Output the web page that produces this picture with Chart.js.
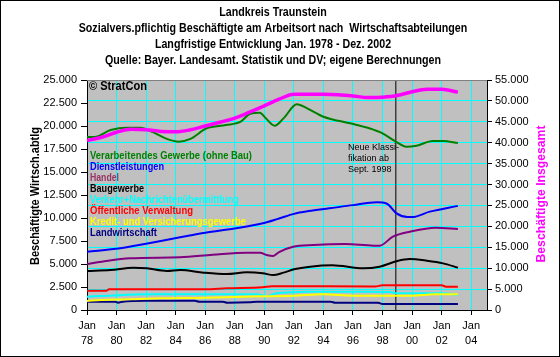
<!DOCTYPE html>
<html>
<head>
<meta charset="utf-8">
<script src="https://cdn.jsdelivr.net/npm/chart.js@4.4.1/dist/chart.umd.min.js"></script>
<style>
html,body{margin:0;padding:0;background:#fff;}
#wrap{width:560px;height:357px;position:relative;}
</style>
</head>
<body>
<div id="wrap"><canvas id="c" width="560" height="357"></canvas></div>
<script>
// ---- Data ----
const titleLines = [
  'Landkreis Traunstein',
  'Sozialvers.pflichtig Beschäftigte am Arbeitsort nach  Wirtschaftsabteilungen',
  'Langfristige Entwicklung Jan. 1978 - Dez. 2002',
  'Quelle: Bayer. Landesamt. Statistik und DV; eigene Berechnungen'
];
const xTickYears = [1978,1980,1982,1984,1986,1988,1990,1992,1994,1996,1998,2000,2002,2004];
const leftTicks = [0,2500,5000,7500,10000,12500,15000,17500,20000,22500,25000];
const rightTicks = [0,5000,10000,15000,20000,25000,30000,35000,40000,45000,50000,55000];

const gesamtYears = [1978,1979,1980,1981,1982,1983,1984,1985,1986,1987,1988,1989,1990,1991,1992,1993,1994,1995,1996,1997,1998,1999,2000,2001,2002,2003.1];
const gesamtValues = [40500,41300,42500,43200,43100,42700,42600,43100,44000,44900,45900,47300,48800,50400,51600,51600,51600,51500,51200,50800,50900,51300,52200,52800,52800,52100];

const verarbYears = [1978,1978.5,1979.6,1980.7,1981.6,1982.5,1983.4,1984.2,1985,1986.1,1987.4,1988.4,1989.0,1989.7,1990.1,1990.7,1991.3,1992.2,1992.9,1994.0,1995.8,1997.1,1998.0,1998.9,1999.6,2000.3,2001.4,2002.1,2003.1];
const verarbValues = [18800,18800,19560,19820,19820,19300,18600,18300,18600,19750,20100,20470,21300,21450,20830,20030,20830,22360,21920,21010,20290,19750,19200,18300,17750,17860,18370,18370,18150];

const dienstYears = [1978,1980.25,1982,1984.3,1986,1988.1,1989.9,1991,1992,1993,1994.4,1996,1997.6,1998.3,1998.95,1999.7,2000,2001.2,2003.1];
const dienstValues = [6340,6700,7200,7900,8400,8880,9420,9950,10450,10750,11050,11400,11700,11550,10500,10100,10100,10690,11320];

const handelYears = [1978,1979,1980.9,1984.3,1986.5,1988.8,1989.7,1990.15,1990.6,1991,1991.95,1993.3,1995.5,1997.4,1997.8,1998.7,1999.85,2001.6,2003.1];
const handelValues = [5000,5250,5620,5730,6000,6230,6230,5980,5870,6300,6880,7065,7170,6990,6990,7970,8510,8950,8800];

const bauYears = [1978,1979.6,1981.15,1982.05,1983.4,1984.3,1985.9,1987.45,1988.8,1989.9,1990.6,1991.3,1992,1993.1,1994.6,1996.7,1997.8,1999,1999.85,2001,2002.1,2003.1];
const bauValues = [4240,4350,4600,4530,4240,4350,4060,3910,4090,3990,3800,4060,4420,4710,4860,4530,4710,5330,5540,5360,5070,4600];

const oeffYears = [1978,1979.3,1979.5,1986,1987.45,1989.9,1990.5,1997.5,1998,2002,2002.3,2003.1];
const oeffValues = [2100,2100,2250,2250,2360,2470,2580,2560,2680,2680,2540,2540];

const verkehrYears = [1978,1979.5,1982,1989.5,1990.2,1990.8,1993,1997,1998.5,1999,2002,2003.1];
const verkehrValues = [1450,1560,1700,1700,1520,1810,1990,1990,1950,1810,1810,1630];

const kreditYears = [1978,1979,1981,1983,1986,1988.5,1992,1994,1996,2000,2001.5,2003.1];
const kreditValues = [980,1090,1160,1270,1340,1450,1550,1700,1560,1560,1700,1700];

const landwYears = [1978,1979.9,1980.1,1980.4,1982,1985.3,1985.6,1987.2,1987.5,1989,1989.5,1994.5,1994.8,1997.7,1998,2003.1];
const landwValues = [900,900,800,900,1000,1000,900,900,800,850,900,900,800,800,650,650];

const breakYear = 1998.9;

const legendEntries = [
  {text:'Verarbeitendes Gewerbe (ohne Bau)', color:'#008000', w:162},
  {text:'Dienstleistungen', color:'#0000ff', w:74},
  {text:'Handel', color:'#993366', w:29},
  {text:'Baugewerbe', color:'#000000', w:54},
  {text:'Verkehr+Nachrichtenübermittlung', color:'#00ffff', w:149},
  {text:'Öffentliche Verwaltung', color:'#ff0000', w:103},
  {text:'Kredit- und Versicherungsgewerbe', color:'#ffff00', w:156},
  {text:'Landwirtschaft', color:'#000080', w:67}
];

// ---- helpers ----
const pts = (xs, vs) => xs.map((x,i)=>({x:x, y:vs[i]}));
const fmt = v => String(v).replace(/\B(?=(\d{3})+(?!\d))/g,'.');
const FONT = '"Liberation Sans", Arial, sans-serif';

function fitText(ctx, text, x, y, w){
  const m = ctx.measureText(text).width;
  ctx.save();
  ctx.translate(x,y);
  ctx.scale(w/m,1);
  ctx.fillText(text,0,0);
  ctx.restore();
}
function squeezeText(ctx, text, x, y, f){
  ctx.save();
  ctx.translate(x,y);
  ctx.scale(f,1);
  ctx.fillText(text,0,0);
  ctx.restore();
}

const bgPlugin = {
  id:'bg',
  beforeDraw(chart){
    const {ctx, chartArea:a} = chart;
    ctx.save();
    ctx.fillStyle='#ffffff';
    ctx.fillRect(0,0,chart.width,chart.height);
    ctx.fillStyle='#c0c0c0';
    ctx.fillRect(a.left,a.top,a.right-a.left,a.bottom-a.top);
    ctx.restore();
  },
  afterDraw(chart){
    const {ctx, chartArea:a} = chart;
    ctx.save();
    // plot top border
    ctx.strokeStyle='#808080'; ctx.lineWidth=1;
    ctx.beginPath(); ctx.moveTo(a.left,a.top+0.5); ctx.lineTo(a.right,a.top+0.5); ctx.stroke();
    // outer frame
    ctx.strokeStyle='#000'; ctx.lineWidth=1;
    ctx.strokeRect(0.5,0.5,chart.width-1,chart.height-1);
    // titles
    ctx.fillStyle='#000';
    ctx.textAlign='center'; ctx.textBaseline='middle';
    ctx.font='bold 12px '+FONT;
    const ty=[13,29,45,61];
    titleLines.forEach((t,i)=>squeezeText(ctx,t,273,ty[i],0.89));
    // axis titles
    ctx.save();
    ctx.translate(36,196); ctx.rotate(-Math.PI/2);
    ctx.font='bold 12px '+FONT; ctx.fillStyle='#000';
    fitText(ctx,'Beschäftigte Wirtsch.abtlg',0,0,138);
    ctx.restore();
    ctx.save();
    ctx.translate(542,194); ctx.rotate(-Math.PI/2);
    ctx.font='bold 12px '+FONT; ctx.fillStyle='#ff00ff';
    fitText(ctx,'Beschäftigte Insgesamt',0,0,137);
    ctx.restore();
    // copyright
    ctx.textAlign='left';
    ctx.font='bold 12px '+FONT; ctx.fillStyle='#000';
    fitText(ctx,'© StratCon',89,87,58);
    // legend inside plot
    ctx.font='bold 10px '+FONT;
    legendEntries.forEach((e,i)=>{
      ctx.fillStyle=e.color;
      fitText(ctx,e.text,90,156+i*11,e.w);
    });
    // annotation
    ctx.font='9px '+FONT; ctx.fillStyle='#000';
    ctx.fillText('Neue Klassi-',348,148);
    ctx.fillText('fikation ab',348,159);
    ctx.fillText('Sept. 1998',348,170);
    ctx.restore();
  }
};

const lineDs = (label, xs, vs, color, width, axis) => ({
  label, data: pts(xs,vs), borderColor: color, backgroundColor: color,
  borderWidth: width, pointRadius: 0, tension: 0.35, cubicInterpolationMode:'monotone',
  yAxisID: axis, fill:false
});

const tickFont = {family:'"Liberation Sans", Arial, sans-serif', size:11, lineHeight:1.4};

new Chart(document.getElementById('c'), {
  type:'line',
  data:{
    datasets:[
      lineDs('Beschäftigte Insgesamt', gesamtYears, gesamtValues, '#ff00ff', 3.5, 'yR'),
      lineDs('Verarbeitendes Gewerbe (ohne Bau)', verarbYears, verarbValues, '#008000', 2, 'yL'),
      lineDs('Dienstleistungen', dienstYears, dienstValues, '#0000ff', 2, 'yL'),
      lineDs('Handel', handelYears, handelValues, '#800080', 2, 'yL'),
      lineDs('Baugewerbe', bauYears, bauValues, '#000000', 2, 'yL'),
      lineDs('Öffentliche Verwaltung', oeffYears, oeffValues, '#ff0000', 2, 'yL'),
      lineDs('Kredit- und Versicherungsgewerbe', kreditYears, kreditValues, '#ffff00', 2, 'yL'),
      lineDs('Verkehr+Nachrichtenübermittlung', verkehrYears, verkehrValues, '#00ffff', 2, 'yL'),
      lineDs('Landwirtschaft', landwYears, landwValues, '#000080', 2, 'yL'),
      {label:'Neue Klassifikation', data:[{x:breakYear,y:0},{x:breakYear,y:25000}], borderColor:'#000', borderWidth:1, pointRadius:0, yAxisID:'yL', tension:0}
    ]
  },
  options:{
    responsive:false, animation:false, devicePixelRatio:1,
    layout:{padding:{top:80,left:0,right:0,bottom:0}},
    plugins:{legend:{display:false}, title:{display:false}, tooltip:{enabled:false}},
    scales:{
      x:{
        type:'linear', position:'bottom', min:1978, max:2005.07,
        afterBuildTicks: s => { s.ticks = xTickYears.map(v=>({value:v})); },
        afterFit: s => { s.height = 47; },
        ticks:{ callback: v => ['Jan', String(v%100).padStart(2,'0')], font:tickFont, color:'#000',
                padding:3, maxRotation:0, minRotation:0, autoSkip:false },
        grid:{ color:'#00ffff', tickColor:'#000', tickLength:5, lineWidth:1, drawOnChartArea:true },
        border:{ color:'#000', width:1 }
      },
      yL:{
        type:'linear', position:'left', min:0, max:25000,
        afterBuildTicks: s => { s.ticks = leftTicks.map(v=>({value:v})); },
        afterFit: s => { s.width = 87; },
        ticks:{ callback: v => fmt(v), font:{family:'"Liberation Sans", Arial, sans-serif', size:11}, color:'#000', padding:4 },
        grid:{ drawOnChartArea:false, tickColor:'#000', tickLength:6 },
        border:{ color:'#000', width:1 }
      },
      yR:{
        type:'linear', position:'right', min:0, max:55000,
        afterBuildTicks: s => { s.ticks = rightTicks.map(v=>({value:v})); },
        afterFit: s => { s.width = 73; },
        ticks:{ callback: v => fmt(v), font:{family:'"Liberation Sans", Arial, sans-serif', size:11}, color:'#000', padding:3 },
        grid:{ drawOnChartArea:true, tickColor:'#000', tickLength:5,
               color: c => (c.tick && (c.tick.value===0 || c.tick.value===55000)) ? 'rgba(0,0,0,0)' : '#00ffff' },
        border:{ color:'#000', width:1 }
      }
    }
  },
  plugins:[bgPlugin]
});
</script>
</body>
</html>
